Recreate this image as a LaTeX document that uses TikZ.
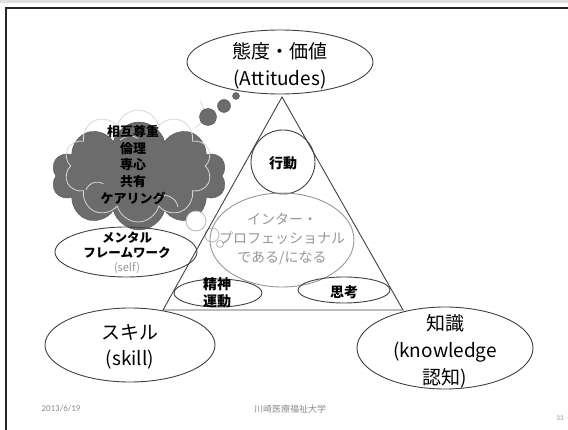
\documentclass[tikz,border=0pt]{standalone}
\usepackage{fontspec}
\newfontfamily\jp{Noto Sans CJK JP}
\newfontfamily\foot{Carlito}
\usetikzlibrary{positioning,shapes.geometric,shapes.symbols}
\definecolor{linegray}{RGB}{64,64,64}
\definecolor{softgray}{RGB}{150,150,150}
\definecolor{cloudfill}{RGB}{108,108,108}
\definecolor{cloudedge}{RGB}{80,80,80}
\definecolor{cloudline}{RGB}{215,215,215}
\definecolor{footgray}{RGB}{140,140,140}
\tikzstyle{bigoval} = [ellipse, draw=linegray, line width=0.9pt, inner sep=0pt]
\tikzstyle{paleoval} = [ellipse, draw=softgray, line width=0.9pt, inner sep=0pt]
\tikzstyle{bigtext} = [align=center, inner sep=0pt, font=\jp\fontsize{19}{27}\selectfont]
\tikzstyle{smalltext} = [align=center, inner sep=0pt, font=\jp\bfseries\fontsize{14}{17}\selectfont]
\tikzstyle{bubble} = [circle, inner sep=0pt, fill=cloudfill, draw=cloudedge]
\tikzstyle{litebubble} = [circle, inner sep=0pt, fill=white, draw=cloudline!85!black, line width=0.8pt]
\tikzstyle{foottext} = [inner sep=0pt, text=footgray]

\begin{document}
\begin{tikzpicture}[x=1pt,y=-1pt]
\useasboundingbox (0,0) rectangle (568,430);
% slide frame
\fill [gray!25] (0,0) rectangle (568,3);
\draw [line width=2pt, black!85] (6,430) -- (6,8) -- (568,8);

% thought cloud
\node (cloud) [cloud, cloud puffs=10, aspect=1.5, minimum width=175pt, minimum height=108pt, fill=cloudfill, draw=cloudedge] at (139,176) {};
\node (cloudrim) [cloud, cloud puffs=10, aspect=1.3, minimum width=148pt, minimum height=112pt, draw=cloudline, line width=0.8pt] at (138,166) {};
\draw [cloudline, line width=0.8pt] (195,128) arc (60:-40:18);
\draw [cloudline, line width=0.8pt] (178,207) arc (-10:-120:14);
\draw [cloudline, line width=0.8pt] (86,190) arc (200:300:12);
\draw [cloudline, line width=0.8pt] (120,140) arc (230:300:16);
\node (care) [smalltext, font=\jp\bfseries\fontsize{13}{16.6}\selectfont] at (133,165) {相互尊重\\倫理\\専心\\共有\\ケアリング};
\node (b1) [bubble, minimum size=17pt] at (208,117) {};
\node (b2) [bubble, minimum size=13pt] at (224,106) {};
\node (b3) [bubble, minimum size=7pt] at (236,96) {};
\node (w1) [litebubble, minimum size=20pt] at (196,221) {};
\node (w2) [litebubble, minimum size=14pt] at (212,235) {};
\node (w3) [litebubble, minimum size=7pt] at (220,244) {};

% triangle
\coordinate (top) at (282,97);
\coordinate (left) at (163,310);
\coordinate (right) at (403,310);
\draw [linegray, line width=0.9pt] (top) -- (left) -- (right) -- cycle;

% corners
\node (attitude) [bigoval, minimum width=186pt, minimum height=64pt] at (280,62) {};
\node (attitudetxt) [bigtext] at (280,66) {態度・価値\\(Attitudes)};
\node (skill) [bigoval, minimum width=170pt, minimum height=74pt] at (130,345) {};
\node (skilltxt) [bigtext, font=\jp\fontsize{19}{26}\selectfont] at (130,347) {スキル\\(skill)};
\node (know) [bigoval, minimum width=176pt, minimum height=82pt] at (445,348) {};
\node (knowtxt) [bigtext] at (445,351) {知識\\(knowledge\\認知)};

% inside
\node (act) [circle, draw=linegray, line width=0.9pt, minimum size=64pt] at (283,162) {};
\node (acttxt) [smalltext] at (283,163) {行動};
\node (ipe) [paleoval, minimum width=144pt, minimum height=94pt] at (282,240) {};
\node (ipetxt) [align=center, inner sep=0pt, text=softgray, font=\jp\fontsize{14}{19}\selectfont] at (282,239) {インター・\\プロフェッショナル\\である/になる};
\node (psy) [bigoval, minimum width=88pt, minimum height=28pt] at (218,293) {};
\node (psytxt) [smalltext] at (217,293) {精神\\運動};
\node (think) [bigoval, minimum width=92pt, minimum height=26pt] at (344,290) {};
\node (thinktxt) [smalltext] at (344,292) {思考};

% self
\node (mental) [bigoval, minimum width=142pt, minimum height=50pt] at (126,252) {};
\node (mentaltxt) [smalltext, font=\jp\bfseries\fontsize{12.5}{15.5}\selectfont] at (127,245) {メンタル\\フレームワーク};
\node (selftxt) [inner sep=0pt, text=softgray, font=\jp\fontsize{11}{13}\selectfont, below=4pt of mentaltxt] {(self)};

% footer
\node (date) [foottext, font=\foot\fontsize{9}{10}\selectfont] at (61,409) {2013/6/19};
\node (univ) [foottext, font=\jp\fontsize{9}{10}\selectfont] at (290,409) {川崎医療福祉大学};
\node (page) [foottext, font=\foot\fontsize{7}{8}\selectfont] at (560,418) {33};
\end{tikzpicture}
\end{document}
